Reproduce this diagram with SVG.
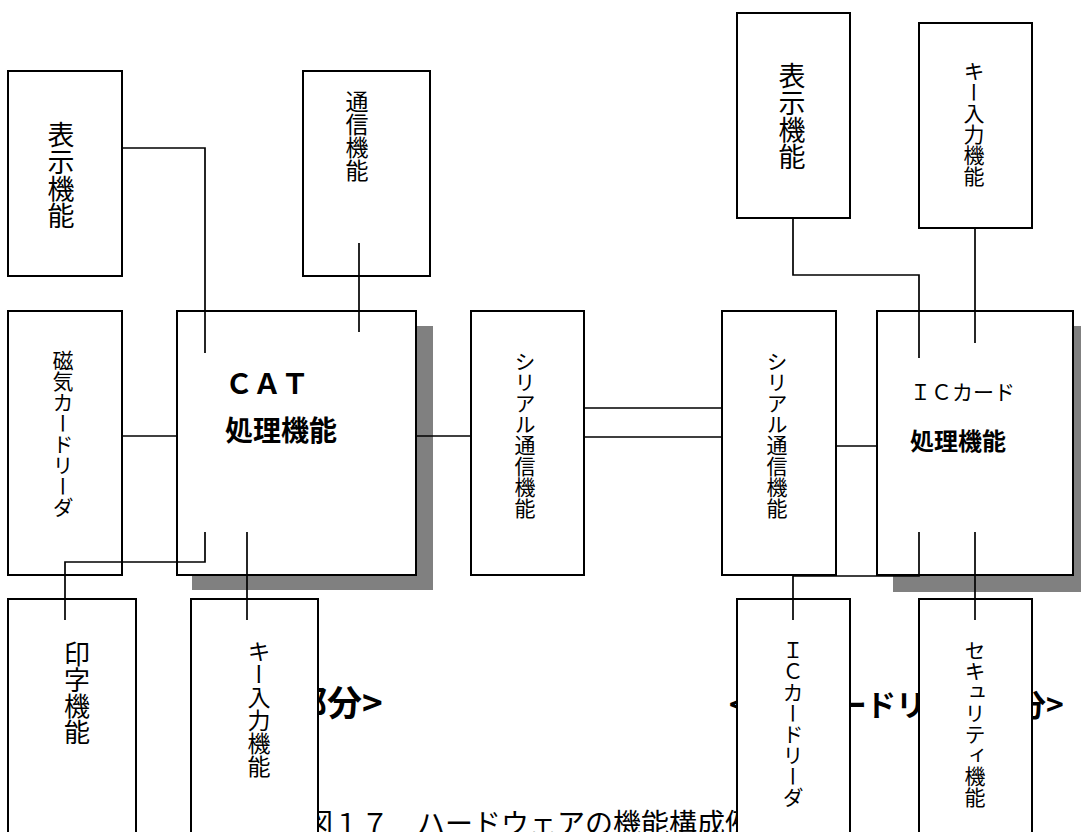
<svg xmlns="http://www.w3.org/2000/svg" width="1081" height="832" viewBox="0 0 1081 832">
<style>
.box{fill:#fff;stroke:#000;stroke-width:2}
.sh{fill:#808080}
.ln{fill:none;stroke:#000;stroke-width:1.7}
text{font-family:"Noto Sans CJK JP","Noto Sans",sans-serif;fill:#000}
.v{writing-mode:vertical-rl}
.b{font-weight:bold}
</style>
<rect width="1081" height="832" fill="#fff"/>
<g id="labels">
<text class="b" x="210" y="716" font-size="35">&lt;CAT<tspan x="292">部分&gt;</tspan></text>
<text class="b" x="729" y="716" font-size="30">&lt;ＩＣカー<tspan x="866">ドリーダ部</tspan><tspan x="1016">分&gt;</tspan></text>
<text x="305" y="834" font-size="28">図１７　ハードウェアの機能構成例</text>
</g>
<g id="shadows">
<rect class="sh" x="192" y="326" width="241" height="264"/>
<rect class="sh" x="893" y="326" width="200" height="266"/>
</g>
<g id="disp-l"><rect class="box" x="8" y="71" width="114" height="205"/><text class="v" x="61" y="121" font-size="27">表示機能</text></g>
<g id="comm"><rect class="box" x="303" y="71" width="127" height="205"/><text class="v" x="357" y="90" font-size="23">通信機能</text></g>
<g id="mag"><rect class="box" x="8" y="311" width="114" height="264"/><text class="v" x="63" y="350" font-size="21">磁気カードリーダ</text></g>
<g id="cat"><rect class="box" x="177" y="311" width="239" height="264"/><text class="b" x="225" y="394" font-size="28">ＣＡＴ</text><text class="b" x="225" y="441" font-size="28">処理機能</text></g>
<g id="print"><rect class="box" x="8" y="599" width="128" height="250"/><text class="v" x="77" y="641" font-size="26">印字機能</text></g>
<g id="key-l"><rect class="box" x="191" y="599" width="127" height="250"/><text class="v" x="259" y="640" font-size="23">キー入力機能</text></g>
<g id="serial1"><rect class="box" x="471" y="311" width="113" height="264"/><text class="v" x="525" y="351" font-size="21">シリアル通信機能</text></g>
<g id="serial2"><rect class="box" x="722" y="311" width="114" height="264"/><text class="v" x="777" y="351" font-size="21">シリアル通信機能</text></g>
<g id="ic"><rect class="box" x="877" y="311" width="196" height="264"/><text x="910" y="400" font-size="21">ＩＣカード</text><text class="b" x="910" y="450" font-size="24">処理機能</text></g>
<g id="disp-r"><rect class="box" x="737" y="13" width="113" height="205"/><text class="v" x="792" y="62" font-size="27">表示機能</text></g>
<g id="key-r"><rect class="box" x="919" y="23" width="113" height="205"/><text class="v" x="974" y="61" font-size="21">キー入力機能</text></g>
<g id="icreader"><rect class="box" x="737" y="599" width="113" height="250"/><text class="v" x="793" y="640" font-size="21">ＩＣカードリーダ</text></g>
<g id="security"><rect class="box" x="919" y="599" width="113" height="250"/><text class="v" x="975" y="640" font-size="21">セキュリティ機能</text></g>
<g id="connectors">
<path class="ln" d="M122,148H205V353"/>
<path class="ln" d="M359,243V332"/>
<path class="ln" d="M122,436H177"/>
<path class="ln" d="M416,436H471"/>
<path class="ln" d="M205,532V562H65V620"/>
<path class="ln" d="M247,532V620"/>
<path class="ln" d="M584,408H722M584,437H722"/>
<path class="ln" d="M836,446H877"/>
<path class="ln" d="M793,218V275H919V358"/>
<path class="ln" d="M975,228V343"/>
<path class="ln" d="M919,532V576H793V620"/>
<path class="ln" d="M975,532V620"/>
</g>
</svg>
